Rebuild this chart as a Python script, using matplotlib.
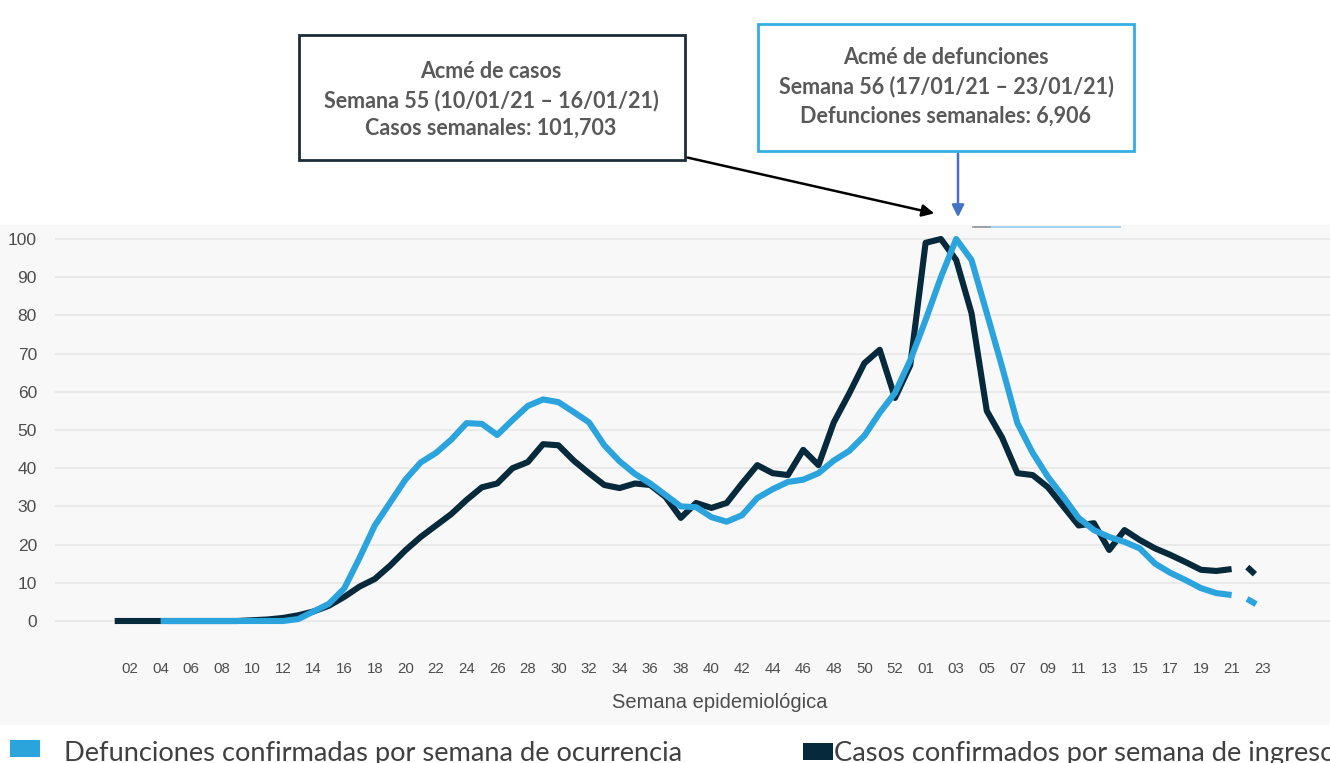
import matplotlib
matplotlib.use("Agg")
import matplotlib.pyplot as plt
from matplotlib.patches import Rectangle, FancyArrowPatch
from matplotlib.lines import Line2D

# ── data ─────────────────────────────────────────────────────────────────────
# consecutive epidemiological weeks: 1..53 (2020) then 01..23 (2021) -> index 1..76
casos_idx = list(range(1, 75))
casos = [0, 0, 0, 0, 0, 0, 0, 0, 0, 0.2, 0.4, 0.8, 1.5, 2.5, 4, 6.3, 9, 11, 14.5, 18.5,
         22, 25, 28, 31.7, 35, 36, 40, 41.6, 46.3, 46, 42, 38.7, 35.6, 34.8, 36, 35.6,
         32.5, 27, 30.9, 29.6, 30.9, 36, 40.8, 38.7, 38.2, 44.8, 40.8, 52, 59.5, 67.5,
         71, 58.4, 67, 99, 100, 94.5, 80.6, 55, 48, 38.7, 38.2, 35, 30, 25, 25.6, 18.6,
         23.8, 21.2, 19, 17.3, 15.4, 13.4, 13.1, 13.6]
casos_proj_idx = [74, 75, 76]
casos_proj = [13.6, 14.2, 10.5]

def_idx = list(range(4, 75))
defunciones = [0, 0, 0, 0, 0, 0, 0, 0, 0, 0.5, 2.5, 4.5, 8.5, 16.5, 25, 31, 37, 41.5, 44,
               47.5, 51.8, 51.6, 48.7, 52.6, 56.3, 58, 57.3, 54.7, 52, 46, 41.8, 38.5, 36,
               33, 30, 29.8, 27.2, 26, 27.7, 32.2, 34.5, 36.4, 37, 38.7, 42, 44.5, 48.5,
               54.5, 59.7, 68.3, 78.8, 90, 100, 94.5, 80.6, 66.5, 51.8, 44, 37.7, 32.5, 27,
               23.8, 22, 20.7, 19, 15, 12.6, 10.7, 8.6, 7.3, 6.8]
def_proj_idx = [74, 75, 76]
def_proj = [6.8, 5.8, 3.5]

tick_pos = list(range(2, 77, 2))
tick_labels = ["02", "04", "06", "08", "10", "12", "14", "16", "18", "20", "22", "24",
               "26", "28", "30", "32", "34", "36", "38", "40", "42", "44", "46", "48",
               "50", "52", "01", "03", "05", "07", "09", "11", "13", "15", "17", "19",
               "21", "23"]

# ── style ────────────────────────────────────────────────────────────────────
BLUE = "#2ba3dd"
NAVY = "#062a3b"
GREY_TXT = "#595959"
W, H = 1330, 763

plt.rcParams["font.family"] = ["Liberation Sans", "DejaVu Sans"]
plt.rcParams["lines.scale_dashes"] = False


def fx(x):
    return x / W


def fy(y):
    return 1 - y / H


fig = plt.figure(figsize=(W / 100, H / 100), dpi=100, facecolor="white")

# light grey chart panel
fig.add_artist(Rectangle((0, fy(725)), 1, fy(225) - fy(725), transform=fig.transFigure,
                         fc="#f8f8f8", ec="none", zorder=0))

# axes: x px = 130 + (i-2)*15.3 ; y px = 621 - v*3.82
left_px, right_px = 55, 1330
top_px, bot_px = 232, 640
ax = fig.add_axes([fx(left_px), fy(bot_px), fx(right_px) - fx(left_px), fy(top_px) - fy(bot_px)])
ax.set_facecolor("none")
ax.set_xlim(2 + (left_px - 130) / 15.3, 2 + (right_px - 130) / 15.3)
ax.set_ylim((621 - bot_px) / 3.82, (621 - top_px) / 3.82)
for s in ax.spines.values():
    s.set_visible(False)
ax.set_yticks(range(0, 101, 10))
ax.yaxis.grid(True, color="#e8e8e8", lw=1.2)
ax.set_axisbelow(True)
ax.tick_params(axis="y", length=0, pad=13, labelsize=12.5, labelcolor="#4d4d4d")
ax.set_xticks(tick_pos)
ax.set_xticklabels(tick_labels)
ax.tick_params(axis="x", length=0, pad=16, labelsize=10.8, labelcolor="#4d4d4d")
ax.set_xlabel("Semana epidemiológica", fontsize=14.5, color="#4d4d4d")
ax.xaxis.set_label_coords((720 - left_px) / (right_px - left_px),
                          (bot_px - 693) / (bot_px - top_px))

lw = 4.4
ax.plot(casos_idx, casos, color=NAVY, lw=lw, solid_capstyle="butt", zorder=3, clip_on=False)
ax.plot(casos_proj_idx, casos_proj, color=NAVY, lw=lw, ls=(7.5, (7.5, 11.5)),
        dash_capstyle="butt", zorder=3, clip_on=False)
ax.plot(def_idx, defunciones, color=BLUE, lw=lw, solid_capstyle="butt", zorder=4, clip_on=False)
ax.plot(def_proj_idx, def_proj, color=BLUE, lw=lw, ls=(7.5, (7.5, 11.5)),
        dash_capstyle="butt", zorder=4, clip_on=False)

# cropped legend remnant at the top edge of the panel
fig.add_artist(Line2D([fx(975), fx(1120)], [fy(227), fy(227)], transform=fig.transFigure,
                      color="#8fcdec", lw=1.2))
fig.add_artist(Line2D([fx(973), fx(990)], [fy(227), fy(227)], transform=fig.transFigure,
                      color="#9a9a9a", lw=1.2))

# ── annotation boxes ─────────────────────────────────────────────────────────
fig.add_artist(Rectangle((fx(299), fy(160)), fx(685) - fx(299), fy(35) - fy(160),
                         transform=fig.transFigure, fc="white", ec="#1d2d3a", lw=2))
for txt, y in [("Acmé de casos", 71), ("Semana 55 (10/01/21 – 16/01/21)", 101),
               ("Casos semanales: 101,703", 128)]:
    fig.text(fx(491), fy(y), txt, ha="center", va="center", fontsize=15.5,
             fontweight="bold", color=GREY_TXT, family=["Lato", "DejaVu Sans"])

fig.add_artist(Rectangle((fx(758), fy(151)), fx(1134) - fx(758), fy(24) - fy(151),
                         transform=fig.transFigure, fc="white", ec="#34aee4", lw=2))
for txt, y in [("Acmé de defunciones", 58), ("Semana 56 (17/01/21 – 23/01/21)", 87),
               ("Defunciones semanales: 6,906", 116)]:
    fig.text(fx(946), fy(y), txt, ha="center", va="center", fontsize=15.5,
             fontweight="bold", color=GREY_TXT, family=["Lato", "DejaVu Sans"])

fig.add_artist(FancyArrowPatch((fx(685), fy(157)), (fx(937), fy(214)),
                               transform=fig.transFigure, arrowstyle="-|>",
                               mutation_scale=18, color="black", lw=1.8))
fig.add_artist(FancyArrowPatch((fx(958), fy(151)), (fx(958), fy(220)),
                               transform=fig.transFigure, arrowstyle="-|>",
                               mutation_scale=18, color="#4472c4", lw=1.8))

# ── legend ───────────────────────────────────────────────────────────────────
fig.add_artist(Rectangle((fx(10), fy(757)), fx(40) - fx(10), fy(740) - fy(757),
                         transform=fig.transFigure, fc=BLUE, ec="none"))
fig.text(fx(64), fy(753), "Defunciones confirmadas por semana de ocurrencia", ha="left",
         va="center", fontsize=19.6, color="#404040", family=["Lato", "DejaVu Sans"])
fig.add_artist(Rectangle((fx(803), fy(760)), fx(833) - fx(803), fy(743) - fy(760),
                         transform=fig.transFigure, fc=NAVY, ec="none"))
fig.text(fx(834), fy(753), "Casos confirmados por semana de ingreso", ha="left",
         va="center", fontsize=19.6, color="#404040", family=["Lato", "DejaVu Sans"])

fig.savefig("out.png", dpi=100, facecolor="white")
